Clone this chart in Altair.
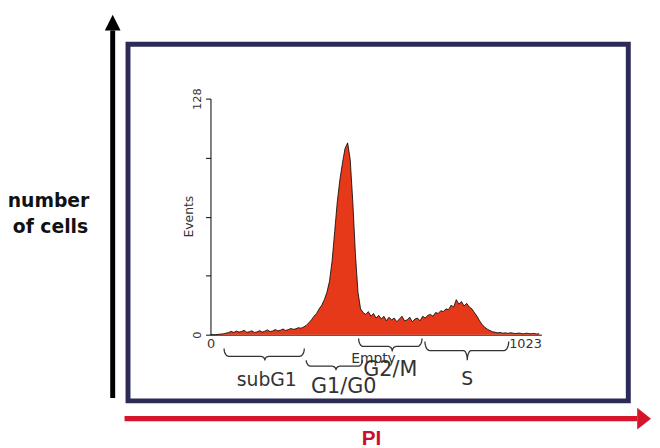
import altair as alt
import pandas as pd
import numpy as np

# ---- histogram data (PI channel bins of 8, number of events) ----
channel = [i * 8 for i in range(128)]
events = [
    0, 0, 0, 0.2, 0.3, 0.5, 0.8, 1.2, 1.8, 1.2,
    2.0, 1.4, 1.7, 2.4, 1.3, 1.6, 2.1, 1.2, 1.5, 2.2,
    1.4, 1.9, 2.6, 1.7, 2.0, 2.8, 2.1, 2.4, 3.1, 2.3,
    2.7, 3.4, 2.9, 3.2, 3.8, 3.5, 4.2, 5.0, 6.5, 8.0,
    10.0, 11.5, 14, 16, 19, 23, 29, 40, 56, 72,
    84, 93, 101, 104, 95, 72, 44, 23, 14, 12,
    11, 12.5, 10, 11.5, 9, 10.5, 8.5, 10, 7.5, 9.5,
    8, 9, 7, 8.5, 10, 7.5, 8, 9.5, 7, 8.5,
    9, 7.5, 10, 9, 10.5, 11, 10, 12, 11.5, 13,
    12.5, 14, 13.5, 16, 15, 19, 16.5, 18, 15.5, 17,
    15, 14, 12, 10, 7.5, 5.5, 4, 3, 2.2, 1.6,
    1.3, 1.0, 1.2, 0.8, 1.0, 0.7, 1.1, 0.8, 0.6, 0.9,
    0.7, 0.5, 0.8, 0.6, 0.5, 0.7, 0.4, 0.5,
]
y_ticks = [0, 32, 64, 96, 128]
x_ticks = [0, 1023]

# ---- phase brackets (channel span, tip, levels in event units below 0) ----
brace_names = ["subG1", "G1/G0", "Empty", "S"]
brace_start = [42, 296, 458, 663]
brace_end = [290, 470, 654, 922]
brace_tip = [168, 388, 562, 794]
brace_top = [-7.5, -13.9, -2.1, -3.7]
brace_line = [-11.8, -17.1, -6.4, -8.6]
brace_tipy = [-13.9, -19.3, -9.1, -13.9]

label_text = ["subG1", "G1/G0", "Empty", "G2/M", "S"]
label_x = [174, 412, 504, 556, 794]
label_y = [-24.6, -28.4, -13.4, -19.3, -24.1]
label_size = [19, 21, 14, 21, 19]

hist = pd.DataFrame({"channel": channel, "events": events})

rows = []
th = np.linspace(0, np.pi / 2, 8)
for k, name in enumerate(brace_names):
    x0, x1, xt = brace_start[k], brace_end[k], brace_tip[k]
    yt, yl, yp = brace_top[k], brace_line[k], brace_tipy[k]
    r, r2 = 15, 12
    pts = []
    pts += [(x0 + r * (1 - np.cos(t)), yl + (yt - yl) * (1 - np.sin(t))) for t in th]
    pts += [(xt - r2 + r2 * np.sin(t), yl - (yl - yp) * (1 - np.cos(t))) for t in th]
    pts += [(xt + r2 - r2 * np.sin(t), yl - (yl - yp) * (1 - np.cos(t))) for t in th[::-1]]
    pts += [(x1 - r * (1 - np.cos(t)), yl + (yt - yl) * (1 - np.sin(t))) for t in th[::-1]]
    for j, (px, py) in enumerate(pts):
        rows.append({"brace": name, "order": j, "channel": float(px), "events": float(py)})
brace_df = pd.DataFrame(rows)
labels_df = pd.DataFrame({"text": label_text, "channel": label_x, "events": label_y, "size": label_size})

xscale = alt.Scale(domain=[0, 1023], nice=False, zero=False)
yscale = alt.Scale(domain=[0, 128], nice=False, zero=False)
xaxis = alt.Axis(
    values=x_ticks, format="d", ticks=False, tickSize=0, grid=False, title=None,
    domainColor="black", domainWidth=1, labelFont="DejaVu Sans", labelFontSize=13,
    labelColor="#333", labelPadding=3, labelFlush=False,
    labelAlign=alt.ExprRef(expr="datum.value == 1023 ? 'right' : 'center'"),
)
yaxis = alt.Axis(
    values=y_ticks, format="d", tickSize=5, tickColor="black", domainColor="black", grid=False,
    labelExpr="datum.value == 0 || datum.value == 128 ? datum.label : ''",
    labelAngle=270, labelAlign="center", labelBaseline="bottom", labelPadding=3,
    labelFont="DejaVu Sans", labelFontSize=11.5, labelColor="#333",
    title="Events", titleAngle=270, titleX=-22, titleY=119, titleAlign="center",
    titleBaseline="middle", titleFont="DejaVu Sans", titleFontSize=12.5,
    titleFontWeight="normal", titleColor="#333",
)
X = alt.X("channel:Q", scale=xscale, axis=xaxis)
Y = alt.Y("events:Q", scale=yscale, axis=yaxis)

one = pd.DataFrame({"a": [0]})

box = alt.Chart(one).mark_rect(fill=None, stroke="#2c2b57", strokeWidth=5).encode(
    x=alt.value(-83.5), x2=alt.value(423), y=alt.value(-55), y2=alt.value(306)
)
area = alt.Chart(hist).mark_area(color="#e5391a", opacity=1).encode(x=X, y=Y)
outline = alt.Chart(hist).mark_line(color="black", strokeWidth=0.8).encode(x=X, y=Y)
braces = alt.Chart(brace_df).mark_line(color="#333", strokeWidth=1.3).encode(
    x=X, y=Y, detail="brace:N", order="order:Q"
)
phase = alt.Chart(labels_df).mark_text(font="DejaVu Sans", color="#333", baseline="middle").encode(
    x=X, y=Y, text="text:N", size=alt.Size("size:Q", scale=None, legend=None)
)
v_shaft = alt.Chart(one).mark_rule(color="black", strokeWidth=5).encode(
    x=alt.value(-99), y=alt.value(-69), y2=alt.value(303)
)
v_head = alt.Chart(one).mark_point(shape="M0,-1L1,1L-1,1Z", filled=True, size=256,
                                   color="black", opacity=1, strokeWidth=0).encode(
    x=alt.value(-99), y=alt.value(-77)
)
h_shaft = alt.Chart(one).mark_rule(color="#d7152a", strokeWidth=5.5).encode(
    x=alt.value(-87), x2=alt.value(432), y=alt.value(324)
)
h_head = alt.Chart(one).mark_point(shape="M1,0L-1,-1.57L-1,1.57Z", filled=True, size=196,
                                   color="#d7152a", opacity=1, strokeWidth=0).encode(
    x=alt.value(439), y=alt.value(324)
)
t1 = alt.Chart(one).mark_text(text="number", font="DejaVu Sans", fontWeight="bold",
                              fontSize=19, color="#111", baseline="alphabetic").encode(
    x=alt.value(-164), y=alt.value(110)
)
t2 = alt.Chart(one).mark_text(text="of cells", font="DejaVu Sans", fontWeight="bold",
                              fontSize=19, color="#111", baseline="alphabetic").encode(
    x=alt.value(-162), y=alt.value(136)
)
t3 = alt.Chart(one).mark_text(text="PI", font="Liberation Sans", fontWeight="bold",
                              fontSize=21, color="#c8102e", baseline="alphabetic").encode(
    x=alt.value(163), y=alt.value(351)
)

chart = alt.layer(
    box, area, outline, braces, phase, v_shaft, v_head, h_shaft, h_head, t1, t2, t3
).properties(
    width=335, height=239,
    padding={"left": 205, "top": 89, "right": 112, "bottom": 112},
    autosize=alt.AutoSizeParams(type="none"),
    background="white",
).configure_view(stroke=None)

chart.save("out.html", embed_options={"renderer": "svg", "actions": False})
